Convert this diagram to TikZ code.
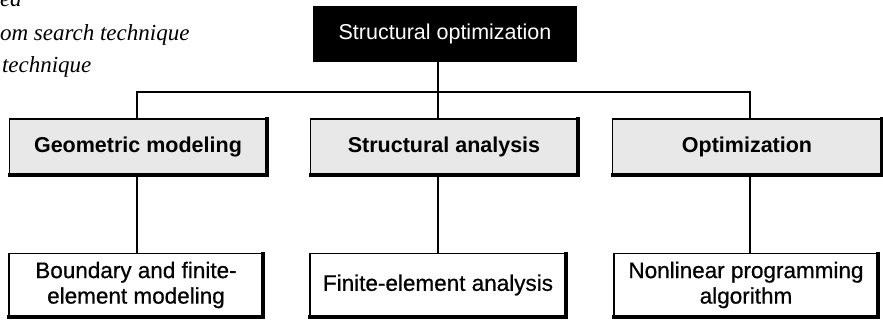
\documentclass[tikz,border=0pt]{standalone}
\usepackage{fontspec}
\setmainfont{Liberation Sans}
\newfontfamily\inksans{Liberation Sans}[FakeBold=0.6]
\newfontfamily\bookfont{Liberation Serif}
\begin{document}
\begin{tikzpicture}[x=1pt,y=-1pt,
  every node/.style={inner sep=0pt,outer sep=0pt},
  topbox/.style={fill=black,text=white,minimum width=264pt,minimum height=56pt,
    font=\fontsize{21.5}{24}\selectfont},
  midbox/.style={draw=black,line width=1.6pt,fill=black!9,minimum height=56pt,
    font=\bfseries\fontsize{21.5}{24}\selectfont},
  lowbox/.style={draw=black,line width=1.6pt,fill=white,minimum height=63pt,
    align=center,font=\inksans\fontsize{22.5}{25.5}\selectfont},
  heavyedge/.style={line width=4pt,line cap=rect},
  wire/.style={line width=1.6pt},
  pagetext/.style={anchor=base west,font=\bookfont\itshape\fontsize{23}{26}\selectfont}]
\useasboundingbox (0,0) rectangle (883,323);

% running text of the page
\node[pagetext] (t1) at (0,7) {ea};
\node[pagetext] (t2) at (0,41) {om search technique};
\node[pagetext] (t3) at (2,73) {technique};

% root
\node[topbox] (root) at (445,34) {Structural optimization};

% second level
\node[midbox,minimum width=257pt] (geo) at (138,147) {Geometric modeling};
\node[midbox,minimum width=267pt] (ana) at (444,147) {Structural analysis};
\node[midbox,minimum width=269pt] (opt) at (747,147) {Optimization};

% third level
\node[lowbox,minimum width=254pt] (bnd) at (136,285) {Boundary and finite-\\element modeling};
\node[lowbox,minimum width=256pt] (fea) at (438,285) {Finite-element analysis};
\node[lowbox,minimum width=264pt] (nlp) at (746,285) {Nonlinear programming\\algorithm};

% heavy right and bottom edges
\foreach \n in {geo,ana,opt,bnd,fea,nlp}
  \draw[heavyedge] (\n.south west) -| (\n.north east);

% connectors
\coordinate (bus) at (438,92);
\draw[wire] (bus |- root.south) -- (bus);
\draw[wire] (bus) -| (137,0 |- geo.north);
\draw[wire] (bus) -| (750,0 |- opt.north);
\draw[wire] (bus) -- (bus |- ana.north);
\draw[wire] (137,0 |- geo.south) -- (137,0 |- bnd.north);
\draw[wire] (bus |- ana.south) -- (bus |- fea.north);
\draw[wire] (750,0 |- opt.south) -- (750,0 |- nlp.north);
\end{tikzpicture}
\end{document}
